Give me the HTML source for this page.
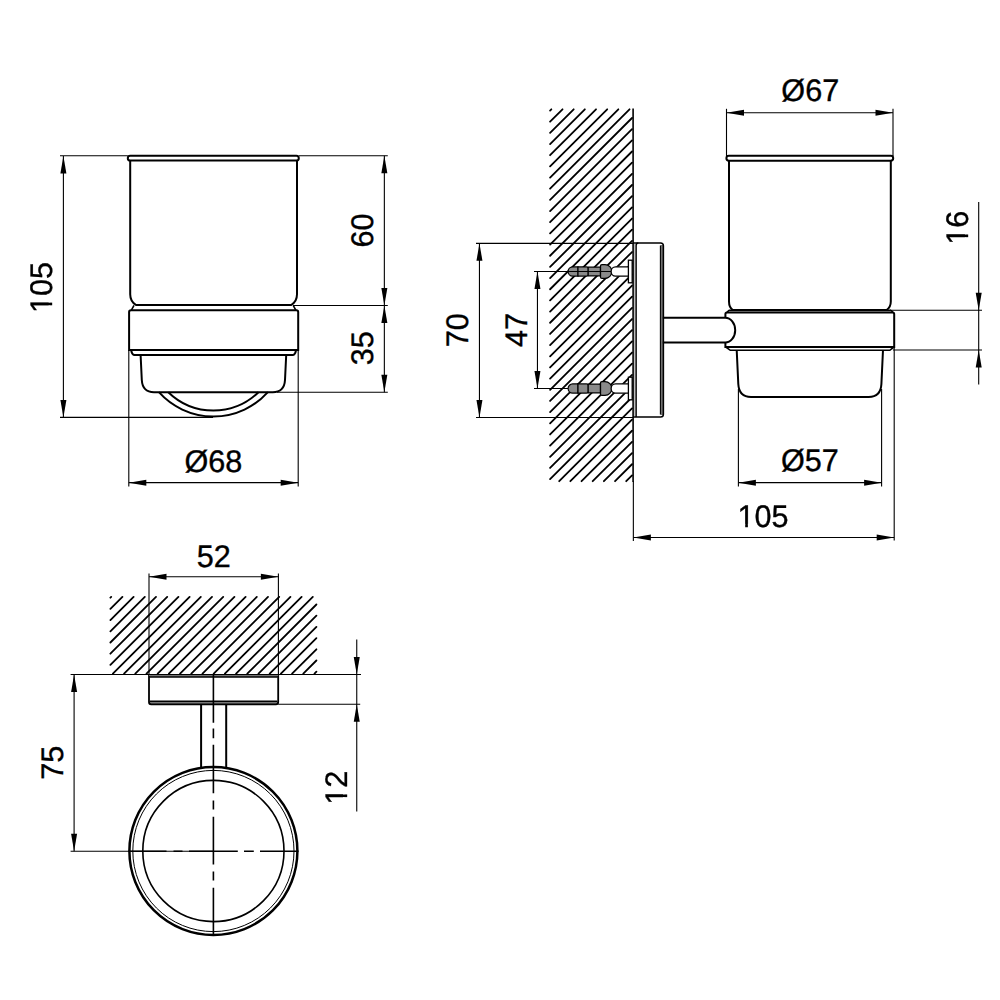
<!DOCTYPE html>
<html><head><meta charset="utf-8"><style>
html,body{margin:0;padding:0;background:#fff;width:1000px;height:1000px;overflow:hidden}
svg{display:block}
text{font-family:"Liberation Sans",sans-serif;fill:#000}
</style></head><body>
<svg width="1000" height="1000" viewBox="0 0 1000 1000">
<rect width="1000" height="1000" fill="#fff"/>
<rect x="127.8" y="155.7" width="171" height="4.9" rx="2.45" stroke="#000" stroke-width="2" fill="none"/>
<path d="M130.2,160.6 V294.2 C130.2,299.5 132.5,302.8 136,305 H291.2 C294.7,302.8 297,299.5 297,294.2 V160.6" stroke="#000" stroke-width="2" fill="none"/>
<path d="M134,305.3 L131.4,310.2 M293.2,305.3 L295.8,310.2" stroke="#000" stroke-width="1.6" fill="none"/>
<path d="M129.1,349.9 V312 Q129.1,310.2 131,310.2 H296.3 Q298.2,310.2 298.2,312 V349.9 Z M131.1,350 Q132,355 134.6,355 H292.6 Q295.2,355 296.1,350" stroke="#000" stroke-width="2" fill="none"/>
<path d="M140.6,355 L141.8,380 Q142.5,392.2 154,392.2 H272.8 Q284.3,392.2 285,380 L286.2,355" stroke="#000" stroke-width="2" fill="none"/>
<path d="M158.9,392.2 A73.3,73.3 0 0 0 267.9,392.2" stroke="#000" stroke-width="2" fill="none"/>
<path d="M168.3,392.2 A64.7,64.7 0 0 0 258.5,392.2" stroke="#000" stroke-width="2" fill="none"/>
<line x1="60" y1="155.8" x2="127.8" y2="155.8" stroke="#000" stroke-width="1.1" fill="none"/>
<line x1="60" y1="417.4" x2="213" y2="417.4" stroke="#000" stroke-width="1.1" fill="none"/>
<line x1="63.4" y1="156" x2="63.4" y2="417.4" stroke="#000" stroke-width="1.1" fill="none"/>
<path d="M63.40,156.00 L66.40,173.50 L60.40,173.50 Z" fill="#000"/>
<path d="M63.40,417.40 L60.40,399.90 L66.40,399.90 Z" fill="#000"/>
<mask id="m1_1" maskUnits="userSpaceOnUse" x="-200" y="-200" width="400" height="400"><rect x="-200" y="-200" width="400" height="400" fill="#fff"/><rect x="-24.63" y="-3.44" width="6.80" height="5.08" fill="#000"/><rect x="-15.13" y="-3.44" width="6.19" height="5.08" fill="#000"/></mask>
<g transform="translate(52.19,287.48) rotate(-90) scale(1,1.02)"><text x="0" y="0" text-anchor="middle" font-size="30.6" text-rendering="geometricPrecision" fill="#000" stroke="#000" stroke-width="0.35" mask="url(#m1_1)">105</text></g>
<line x1="299" y1="155.8" x2="387.8" y2="155.8" stroke="#000" stroke-width="1.1" fill="none"/>
<line x1="293" y1="305.5" x2="387.8" y2="305.5" stroke="#000" stroke-width="1.1" fill="none"/>
<line x1="277" y1="392.3" x2="387.8" y2="392.3" stroke="#000" stroke-width="1.1" fill="none"/>
<line x1="384.35" y1="155.8" x2="384.35" y2="305.5" stroke="#000" stroke-width="1.1" fill="none"/>
<path d="M384.35,155.80 L387.35,173.30 L381.35,173.30 Z" fill="#000"/>
<path d="M384.35,305.50 L381.35,288.00 L387.35,288.00 Z" fill="#000"/>
<line x1="384.35" y1="305.5" x2="384.35" y2="392.3" stroke="#000" stroke-width="1.1" fill="none"/>
<path d="M384.35,305.50 L387.35,323.00 L381.35,323.00 Z" fill="#000"/>
<path d="M384.35,392.30 L381.35,374.80 L387.35,374.80 Z" fill="#000"/>
<g transform="translate(373.37,230.55) rotate(-90) scale(1,1.02)"><text x="0" y="0" text-anchor="middle" font-size="30.6" text-rendering="geometricPrecision" fill="#000" stroke="#000" stroke-width="0.35">60</text></g>
<g transform="translate(373.29,348.34) rotate(-90) scale(1,1.02)"><text x="0" y="0" text-anchor="middle" font-size="30.6" text-rendering="geometricPrecision" fill="#000" stroke="#000" stroke-width="0.35">35</text></g>
<line x1="128.8" y1="350" x2="128.8" y2="486.5" stroke="#000" stroke-width="1.1" fill="none"/>
<line x1="298.2" y1="350" x2="298.2" y2="486.5" stroke="#000" stroke-width="1.1" fill="none"/>
<line x1="128.8" y1="482.65" x2="298.2" y2="482.65" stroke="#000" stroke-width="1.1" fill="none"/>
<path d="M128.80,482.65 L146.30,479.65 L146.30,485.65 Z" fill="#000"/>
<path d="M298.20,482.65 L280.70,485.65 L280.70,479.65 Z" fill="#000"/>
<g transform="translate(213.33,472.24) scale(1,1.02)"><text x="0" y="0" text-anchor="middle" font-size="30.6" text-rendering="geometricPrecision" fill="#000" stroke="#000" stroke-width="0.35">Ø68</text></g>
<path d="M550.10,110.53 L551.33,109.30 M550.10,121.70 L562.50,109.30 M550.10,132.87 L573.67,109.30 M550.10,144.04 L584.84,109.30 M550.10,155.21 L596.01,109.30 M550.10,166.38 L607.18,109.30 M550.10,177.55 L618.35,109.30 M550.10,188.72 L629.52,109.30 M550.10,199.89 L632.00,117.99 M550.10,211.06 L632.00,129.16 M550.10,222.23 L632.00,140.33 M550.10,233.40 L632.00,151.50 M550.10,244.57 L632.00,162.67 M550.10,255.74 L632.00,173.84 M550.10,266.91 L632.00,185.01 M550.10,278.08 L632.00,196.18 M550.10,289.25 L632.00,207.35 M550.10,300.42 L632.00,218.52 M550.10,311.59 L632.00,229.69 M550.10,322.76 L632.00,240.86 M550.10,333.93 L632.00,252.03 M550.10,345.10 L632.00,263.20 M550.10,356.27 L632.00,274.37 M550.10,367.44 L632.00,285.54 M550.10,378.61 L632.00,296.71 M550.10,389.78 L632.00,307.88 M550.10,400.95 L632.00,319.05 M550.10,412.12 L632.00,330.22 M550.10,423.29 L632.00,341.39 M550.10,434.46 L632.00,352.56 M550.10,445.63 L632.00,363.73 M550.10,456.80 L632.00,374.90 M550.10,467.97 L632.00,386.07 M550.10,479.14 L632.00,397.24 M559.21,481.20 L632.00,408.41 M570.38,481.20 L632.00,419.58 M581.55,481.20 L632.00,430.75 M592.72,481.20 L632.00,441.92 M603.89,481.20 L632.00,453.09 M615.06,481.20 L632.00,464.26 M626.23,481.20 L632.00,475.43" stroke="#000" stroke-width="1.8" stroke-linecap="round" fill="none"/>
<line x1="633.1" y1="108.4" x2="633.1" y2="482.1" stroke="#000" stroke-width="1.6"/>
<line x1="633.35" y1="481.3" x2="633.35" y2="541" stroke="#000" stroke-width="1.1" fill="none"/>
<rect x="660.6" y="245" width="2.6" height="170" fill="#707070"/>
<path d="M633,243 H660.6 Q663.4,243 663.4,245.8 V414.2 Q663.4,417 660.6,417 H633" stroke="#000" stroke-width="1.5" fill="none"/>
<path d="M636.1,417 Q636.1,415 636.1,414 V245.5 Q636.1,243 638.3,243" stroke="#000" stroke-width="1.5" fill="none"/>
<line x1="634.6" y1="244" x2="634.6" y2="416" stroke="#999" stroke-width="0.7"/>
<line x1="660.4" y1="245.5" x2="660.4" y2="414.5" stroke="#000" stroke-width="1.1"/>
<path d="M572.7,266.9 H578 V276.1 H572.7 A4.6,4.6 0 0 1 572.7,266.9 Z" fill="#8a8a8a" stroke="#000" stroke-width="1.2"/>
<path d="M578,266.9 H586.5 Q588.2,266.9 588.2,268.5 V274.5 Q588.2,276.1 586.5,276.1 H578 Z" fill="#8a8a8a" stroke="#000" stroke-width="1.2"/>
<path d="M588.2,267.1 H600.5 V275.9 H588.2 Z" fill="#8a8a8a" stroke="#000" stroke-width="1.2"/>
<path d="M602,264.6 H605 A6.9,6.9 0 0 1 605,278.4 H602 Q600.5,278.4 600.5,276.9 V266.1 Q600.5,264.6 602,264.6 Z" fill="#8a8a8a" stroke="#000" stroke-width="1.3"/>
<path d="M568,271.5 H611" stroke="#000" stroke-width="1"/>
<path d="M628.4,266.8 H615.5 A4.4,4.7 0 0 0 615.5,276.2 H628.4" fill="#fff" stroke="#000" stroke-width="1.3"/>
<rect x="628.4" y="260.2" width="3.8" height="22.6" fill="#fff" stroke="#000" stroke-width="1.3"/>
<path d="M572.7,383.9 H578 V393.1 H572.7 A4.6,4.6 0 0 1 572.7,383.9 Z" fill="#8a8a8a" stroke="#000" stroke-width="1.2"/>
<path d="M578,383.9 H586.5 Q588.2,383.9 588.2,385.5 V391.5 Q588.2,393.1 586.5,393.1 H578 Z" fill="#8a8a8a" stroke="#000" stroke-width="1.2"/>
<path d="M588.2,384.1 H600.5 V392.9 H588.2 Z" fill="#8a8a8a" stroke="#000" stroke-width="1.2"/>
<path d="M602,381.6 H605 A6.9,6.9 0 0 1 605,395.4 H602 Q600.5,395.4 600.5,393.9 V383.1 Q600.5,381.6 602,381.6 Z" fill="#8a8a8a" stroke="#000" stroke-width="1.3"/>
<path d="M628.4,383.8 H615.5 A4.4,4.7 0 0 0 615.5,393.2 H628.4" fill="#fff" stroke="#000" stroke-width="1.3"/>
<rect x="628.4" y="377.2" width="3.8" height="22.6" fill="#fff" stroke="#000" stroke-width="1.3"/>
<path d="M662.8,317.8 H725.2 A10,12.35 0 0 1 725.2,342.5 H662.8" stroke="#000" stroke-width="2" fill="none"/>
<path d="M725.4,317.8 V314.2 Q725.4,312.6 727,312.6 H892.6 Q894.2,312.6 894.2,314.2 V347 H725.4 V342.5" stroke="#000" stroke-width="2" fill="none"/>
<path d="M728.8,310.4 H891 M729,310.3 L726.8,312.6 M891,310.3 L893,312.6 M725.8,347 L730.3,350.3 H889.8 L894,347" stroke="#000" stroke-width="1.6" fill="none"/>
<rect x="726.4" y="155.8" width="166.8" height="4.9" rx="2.45" stroke="#000" stroke-width="2" fill="none"/>
<path d="M729,160.5 V301.5 C729,306 730.5,308.5 732.8,310 H886.6 C888.9,308.5 890.8,306 890.8,301.5 V160.5" stroke="#000" stroke-width="2" fill="none"/>
<path d="M736.7,350 L738.3,384 Q739,397 751,397 H868.7 Q880.7,397 881.4,384 L883,350" stroke="#000" stroke-width="2" fill="none"/>
<line x1="726.5" y1="108.8" x2="726.5" y2="156" stroke="#000" stroke-width="1.1" fill="none"/>
<line x1="893.0" y1="108.8" x2="893.0" y2="156" stroke="#000" stroke-width="1.1" fill="none"/>
<line x1="726.5" y1="112.75" x2="893.0" y2="112.75" stroke="#000" stroke-width="1.1" fill="none"/>
<path d="M726.50,112.75 L744.00,109.75 L744.00,115.75 Z" fill="#000"/>
<path d="M893.00,112.75 L875.50,115.75 L875.50,109.75 Z" fill="#000"/>
<g transform="translate(810.24,101.49) scale(1,1.02)"><text x="0" y="0" text-anchor="middle" font-size="30.6" text-rendering="geometricPrecision" fill="#000" stroke="#000" stroke-width="0.35">Ø67</text></g>
<line x1="890" y1="310.2" x2="982" y2="310.2" stroke="#000" stroke-width="1.1" fill="none"/>
<line x1="893" y1="350" x2="982" y2="350" stroke="#000" stroke-width="1.1" fill="none"/>
<line x1="978.7" y1="202" x2="978.7" y2="384.6" stroke="#000" stroke-width="1.1" fill="none"/>
<path d="M978.70,310.30 L975.70,292.80 L981.70,292.80 Z" fill="#000"/>
<path d="M978.70,349.90 L981.70,367.40 L975.70,367.40 Z" fill="#000"/>
<mask id="m1_2" maskUnits="userSpaceOnUse" x="-200" y="-200" width="400" height="400"><rect x="-200" y="-200" width="400" height="400" fill="#fff"/><rect x="-16.12" y="-3.44" width="6.80" height="5.08" fill="#000"/><rect x="-6.62" y="-3.44" width="6.19" height="5.08" fill="#000"/></mask>
<g transform="translate(968.44,227.85) rotate(-90) scale(1,1.02)"><text x="0" y="0" text-anchor="middle" font-size="30.6" text-rendering="geometricPrecision" fill="#000" stroke="#000" stroke-width="0.35" mask="url(#m1_2)">16</text></g>
<line x1="476" y1="243.35" x2="633" y2="243.35" stroke="#000" stroke-width="1.1" fill="none"/>
<line x1="476" y1="417.45" x2="633" y2="417.45" stroke="#000" stroke-width="1.1" fill="none"/>
<line x1="479.45" y1="243.35" x2="479.45" y2="417.45" stroke="#000" stroke-width="1.1" fill="none"/>
<path d="M479.45,243.35 L482.45,260.85 L476.45,260.85 Z" fill="#000"/>
<path d="M479.45,417.45 L476.45,399.95 L482.45,399.95 Z" fill="#000"/>
<g transform="translate(468.39,330.34) rotate(-90) scale(1,1.02)"><text x="0" y="0" text-anchor="middle" font-size="30.6" text-rendering="geometricPrecision" fill="#000" stroke="#000" stroke-width="0.35">70</text></g>
<line x1="534" y1="271.5" x2="568" y2="271.5" stroke="#000" stroke-width="1.1" fill="none"/>
<line x1="534" y1="388.5" x2="568" y2="388.5" stroke="#000" stroke-width="1.1" fill="none"/>
<line x1="537.45" y1="271.5" x2="537.45" y2="388.5" stroke="#000" stroke-width="1.1" fill="none"/>
<path d="M537.45,271.50 L540.45,289.00 L534.45,289.00 Z" fill="#000"/>
<path d="M537.45,388.50 L534.45,371.00 L540.45,371.00 Z" fill="#000"/>
<g transform="translate(527.29,329.88) rotate(-90) scale(1,1.02)"><text x="0" y="0" text-anchor="middle" font-size="30.6" text-rendering="geometricPrecision" fill="#000" stroke="#000" stroke-width="0.35">47</text></g>
<line x1="738.4" y1="389" x2="738.4" y2="486.5" stroke="#000" stroke-width="1.1" fill="none"/>
<line x1="881.6" y1="389" x2="881.6" y2="486.5" stroke="#000" stroke-width="1.1" fill="none"/>
<line x1="738.4" y1="482.65" x2="881.6" y2="482.65" stroke="#000" stroke-width="1.1" fill="none"/>
<path d="M738.40,482.65 L755.90,479.65 L755.90,485.65 Z" fill="#000"/>
<path d="M881.60,482.65 L864.10,485.65 L864.10,479.65 Z" fill="#000"/>
<g transform="translate(809.94,471.44) scale(1,1.02)"><text x="0" y="0" text-anchor="middle" font-size="30.6" text-rendering="geometricPrecision" fill="#000" stroke="#000" stroke-width="0.35">Ø57</text></g>
<line x1="894.2" y1="347" x2="894.2" y2="540.5" stroke="#000" stroke-width="1.1" fill="none"/>
<line x1="633.35" y1="537.5" x2="894.2" y2="537.5" stroke="#000" stroke-width="1.1" fill="none"/>
<path d="M633.35,537.50 L650.85,534.50 L650.85,540.50 Z" fill="#000"/>
<path d="M894.20,537.50 L876.70,540.50 L876.70,534.50 Z" fill="#000"/>
<mask id="m1_3" maskUnits="userSpaceOnUse" x="-200" y="-200" width="400" height="400"><rect x="-200" y="-200" width="400" height="400" fill="#fff"/><rect x="-24.63" y="-3.44" width="6.80" height="5.08" fill="#000"/><rect x="-15.13" y="-3.44" width="6.19" height="5.08" fill="#000"/></mask>
<g transform="translate(763.02,527.39) scale(1,1.02)"><text x="0" y="0" text-anchor="middle" font-size="30.6" text-rendering="geometricPrecision" fill="#000" stroke="#000" stroke-width="0.35" mask="url(#m1_3)">105</text></g>
<path d="M110.40,597.70 L111.20,596.90 M110.40,608.90 L122.40,596.90 M110.40,620.10 L133.60,596.90 M110.40,631.30 L144.80,596.90 M110.40,642.50 L156.00,596.90 M110.40,653.70 L167.20,596.90 M110.40,664.90 L178.40,596.90 M112.90,673.60 L189.60,596.90 M124.10,673.60 L200.80,596.90 M135.30,673.60 L212.00,596.90 M146.50,673.60 L223.20,596.90 M157.70,673.60 L234.40,596.90 M168.90,673.60 L245.60,596.90 M180.10,673.60 L256.80,596.90 M191.30,673.60 L268.00,596.90 M202.50,673.60 L279.20,596.90 M213.70,673.60 L290.40,596.90 M224.90,673.60 L301.60,596.90 M236.10,673.60 L312.80,596.90 M247.30,673.60 L316.40,604.50 M258.50,673.60 L316.40,615.70 M269.70,673.60 L316.40,626.90 M280.90,673.60 L316.40,638.10 M292.10,673.60 L316.40,649.30 M303.30,673.60 L316.40,660.50 M314.50,673.60 L316.40,671.70" stroke="#000" stroke-width="1.8" stroke-linecap="round" fill="none"/>
<line x1="70.6" y1="674.5" x2="361" y2="674.5" stroke="#000" stroke-width="1.1"/>
<line x1="149" y1="573.5" x2="149" y2="674.5" stroke="#000" stroke-width="1.1" fill="none"/>
<line x1="278.4" y1="573.5" x2="278.4" y2="674.5" stroke="#000" stroke-width="1.1" fill="none"/>
<line x1="149" y1="576.7" x2="278.4" y2="576.7" stroke="#000" stroke-width="1.1" fill="none"/>
<path d="M149.00,576.70 L166.50,573.70 L166.50,579.70 Z" fill="#000"/>
<path d="M278.40,576.70 L260.90,579.70 L260.90,573.70 Z" fill="#000"/>
<g transform="translate(213.66,567.22) scale(1,1.02)"><text x="0" y="0" text-anchor="middle" font-size="30.6" text-rendering="geometricPrecision" fill="#000" stroke="#000" stroke-width="0.35">52</text></g>
<rect x="149" y="701.3" width="129.2" height="3" fill="#777"/>
<path d="M149,675.5 H278.2 V702 Q278.2,704.3 276,704.3 H151.2 Q149,704.3 149,702 Z" stroke="#000" stroke-width="1.8" fill="none"/>
<line x1="149" y1="675.5" x2="278.2" y2="675.5" stroke="#777" stroke-width="1.2"/>
<line x1="149.5" y1="677" x2="277.7" y2="677" stroke="#000" stroke-width="1.6"/>
<line x1="150" y1="701.3" x2="277.2" y2="701.3" stroke="#000" stroke-width="1.5"/>
<line x1="278.2" y1="704.3" x2="360.2" y2="704.3" stroke="#000" stroke-width="1.1" fill="none"/>
<line x1="201.1" y1="704" x2="201.1" y2="767.5" stroke="#000" stroke-width="2" fill="none"/>
<line x1="226.2" y1="704" x2="226.2" y2="767.5" stroke="#000" stroke-width="2" fill="none"/>
<circle cx="213.4" cy="851" r="84" stroke="#000" stroke-width="2.5" fill="none"/>
<circle cx="213.4" cy="851" r="80.6" stroke="#000" stroke-width="1" fill="none"/>
<circle cx="213.4" cy="851" r="70.6" stroke="#000" stroke-width="1.6" fill="none"/>
<line x1="70.6" y1="851.2" x2="213.4" y2="851.2" stroke="#000" stroke-width="1.1" fill="none"/>
<path d="M213.4,674 V722.7 M213.4,728.5 V738.3 M213.4,744.8 V793.3 M213.4,800.5 V809.5 M213.4,816.7 V864.4 M213.4,871.6 V880.6 M213.4,887.8 V935.5" stroke="#000" stroke-width="1.6"/>
<path d="M128.5,851.2 H166.5 M173.5,851.2 H182.5 M189,851.2 H237.8 M244,851.2 H253.8 M260,851.2 H298.5" stroke="#000" stroke-width="1.6"/>
<line x1="74.1" y1="674.5" x2="74.1" y2="851.2" stroke="#000" stroke-width="1.1" fill="none"/>
<path d="M74.10,674.50 L77.10,692.00 L71.10,692.00 Z" fill="#000"/>
<path d="M74.10,851.20 L71.10,833.70 L77.10,833.70 Z" fill="#000"/>
<g transform="translate(63.28,762.79) rotate(-90) scale(1,1.02)"><text x="0" y="0" text-anchor="middle" font-size="30.6" text-rendering="geometricPrecision" fill="#000" stroke="#000" stroke-width="0.35">75</text></g>
<line x1="356.75" y1="639.4" x2="356.75" y2="811.4" stroke="#000" stroke-width="1.1" fill="none"/>
<path d="M356.75,674.50 L353.75,657.00 L359.75,657.00 Z" fill="#000"/>
<path d="M356.75,704.30 L359.75,721.80 L353.75,721.80 Z" fill="#000"/>
<mask id="m1_4" maskUnits="userSpaceOnUse" x="-200" y="-200" width="400" height="400"><rect x="-200" y="-200" width="400" height="400" fill="#fff"/><rect x="-16.12" y="-3.44" width="6.80" height="5.08" fill="#000"/><rect x="-6.62" y="-3.44" width="6.19" height="5.08" fill="#000"/></mask>
<g transform="translate(346.55,787.80) rotate(-90) scale(1,1.02)"><text x="0" y="0" text-anchor="middle" font-size="30.6" text-rendering="geometricPrecision" fill="#000" stroke="#000" stroke-width="0.35" mask="url(#m1_4)">12</text></g>
</svg></body></html>
